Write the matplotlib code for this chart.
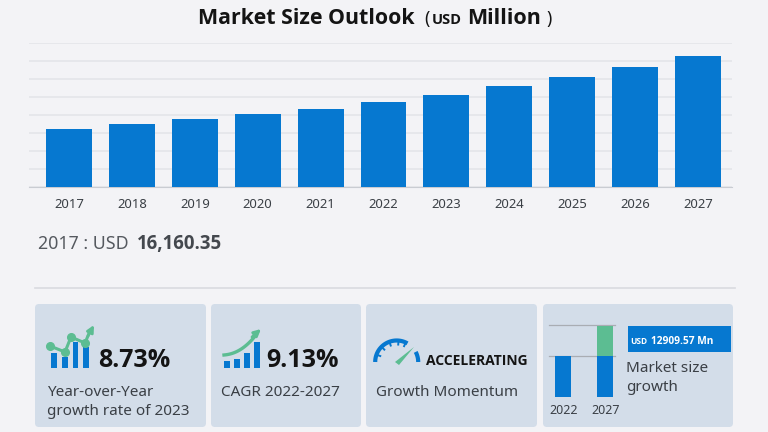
import numpy as np
import matplotlib
matplotlib.use("Agg")
import matplotlib.pyplot as plt
from matplotlib.patches import FancyBboxPatch, Rectangle

plt.rcParams['font.family'] = ['Noto Sans', 'DejaVu Sans']

years = ['2017','2018','2019','2020','2021','2022','2023','2024','2025','2026','2027']
market_size = [16160.35, 17500, 18900, 20280, 21800, 23600, 25660, 28050, 30550, 33330, 36510]
mini_years = ['2022', '2027']
mini_base = [41, 41]
mini_growth = [0, 30]

BG = '#f3f3f6'; BLUE = '#0678d0'; GREEN = '#5cbd92'; CARD = '#d3dde9'
DARK = '#3a3f45'; GRID = '#e4e5e9'

W, H = 768, 432
fig = plt.figure(figsize=(W/100, H/100), dpi=100, facecolor=BG)

# main chart
L, R, T, B = 29, 732, 43, 187
ax = fig.add_axes([L/W, 1-B/H, (R-L)/W, (B-T)/H], facecolor=BG)
x = np.arange(len(years))
ax.bar(x, market_size, width=0.73, color=BLUE, zorder=3)
ax.set_xlim(-0.636, 10.54)
ax.set_ylim(0, 40000)
ax.set_yticks(np.arange(0, 40001, 5000))
ax.yaxis.grid(True, color=GRID, lw=1.2, zorder=0)
ax.set_axisbelow(True)
ax.tick_params(axis='y', length=0, labelleft=False)
ax.set_xticks(x, years)
ax.tick_params(axis='x', length=0, pad=7.6, labelsize=9.4, labelcolor=DARK)
for s in ['top', 'left', 'right']:
    ax.spines[s].set_visible(False)
ax.spines['bottom'].set_color('#c9ccd2')

# overlay in pixel coordinates
ov = fig.add_axes([0, 0, 1, 1], facecolor='none')
ov.set_xlim(0, W); ov.set_ylim(H, 0); ov.axis('off')

def txt(px, py, s, size, weight='normal', color=DARK, ha='left', va='baseline'):
    fam = ['Open Sans', 'DejaVu Sans'] if weight == 'bold' else ['Noto Sans', 'DejaVu Sans']
    return ov.text(px, py, s, fontsize=size, fontweight=weight, color=color, ha=ha, va=va, family=fam)

# title
txt(198, 24, 'Market Size Outlook', 15.4, 'bold', '#141414')
txt(424, 24, '(', 12.5, 'normal', '#141414')
txt(432, 24, 'USD', 10.5, 'bold', '#141414')
txt(467, 24, 'Million', 15.5, 'bold', '#141414')
txt(546, 24, ')', 12.5, 'normal', '#141414')

# selected value
txt(38, 249, '2017 : USD', 12.8, 'normal', '#55595f')
txt(137, 249, '16,160.35', 13.4, 'bold', '#44484e')

# divider
ov.plot([35, 735], [288, 288], color='#d9dae0', lw=1.2)

# cards
for x0, x1 in [(35, 206), (211, 361), (366, 537), (543, 733)]:
    ov.add_patch(FancyBboxPatch((x0+3, 304+3), x1-x0-6, 123-6,
                 boxstyle='round,pad=3,rounding_size=4', fc=CARD, ec='none'))

# card 1 icon
for x0, x1, y0 in [(50.7, 57.3, 353), (61.7, 67.7, 357), (72.7, 78.3, 342), (83.3, 89.3, 347)]:
    ov.add_patch(Rectangle((x0, y0), x1-x0, 368-y0, fc=BLUE, ec='none'))
lx = [50, 65, 71, 85, 90]; ly = [346, 352, 337, 343, 331]
ov.plot(lx, ly, color=GREEN, lw=2.2, solid_capstyle='round')
ov.plot(lx[:-1], ly[:-1], 'o', color=GREEN, ms=5.5, ls='none')
ov.annotate('', xy=(94, 325), xytext=(88, 336),
            arrowprops=dict(arrowstyle='-|>', color=GREEN, lw=2, mutation_scale=10, shrinkA=0, shrinkB=0))
txt(98, 367, '8.73%', 18, 'bold', '#141414')
txt(47, 396, 'Year-over-Year', 11, color=DARK)
txt(47, 415, 'growth rate of 2023', 11, color=DARK)

# card 2 icon
for x0, x1, y0 in [(224, 230, 361), (233.5, 239.5, 359), (243.5, 250, 353), (253.5, 260, 342)]:
    ov.add_patch(Rectangle((x0, y0), x1-x0, 367.5-y0, fc=BLUE, ec='none'))
t = np.linspace(0, 1, 30)
ov.plot(224+32*t, 355-(17*t**2.2+3*t), color=GREEN, lw=2.4)
ov.annotate('', xy=(261, 329), xytext=(252, 337),
            arrowprops=dict(arrowstyle='-|>', color=GREEN, lw=2, mutation_scale=10, shrinkA=0, shrinkB=0))
txt(266, 367, '9.13%', 18, 'bold', '#141414')
txt(221, 396, 'CAGR 2022-2027', 11, color=DARK)

# card 3 gauge
cx, cy, r = 396.7, 362, 21.5
a = np.radians(np.linspace(180, 60, 60))
ov.plot(cx+r*np.cos(a), cy-r*np.sin(a), color=BLUE, lw=3, solid_capstyle='butt')
a = np.radians(np.linspace(28, 0, 20))
ov.plot(cx+r*np.cos(a), cy-r*np.sin(a), color=BLUE, lw=3, solid_capstyle='butt')
for d in [160, 135, 110, 85, 65]:
    c, s = np.cos(np.radians(d)), np.sin(np.radians(d))
    ov.plot([cx+r*c, cx+(r-4)*c], [cy-r*s, cy-(r-4)*s], color=BLUE, lw=1.4)
ov.fill([395, 399, 414], [362, 365, 347], color=GREEN, ec='none')
txt(426.5, 365, 'ACCELERATING', 10, 'bold', '#141414')
txt(376, 396, 'Growth Momentum', 11, color=DARK)

# card 4 mini chart
ov.plot([549, 615], [325, 325], color='#a9adb3', lw=0.9)
ov.plot([549, 615], [355.7, 355.7], color='#a9adb3', lw=0.9)
base_y = 396.7
mini_x = [562.7, 605]
for mx, label, b, g in zip(mini_x, mini_years, mini_base, mini_growth):
    ov.bar(mx, -b, width=16, bottom=base_y, color=BLUE, zorder=3)
    if g:
        ov.bar(mx, -g, width=16, bottom=base_y-b, color=GREEN, zorder=3)
    txt(mx+1, 414, label, 9, ha='center')
ov.set_xlim(0, W); ov.set_ylim(H, 0)
ov.add_patch(Rectangle((628, 326), 102.5, 25.5, fc=BLUE, ec='none'))
txt(630.5, 344, 'USD', 6, 'bold', 'white')
txt(651, 344, '12909.57 Mn', 7.3, 'bold', 'white')
txt(626, 372, 'Market size', 11, color=DARK)
txt(626, 391, 'growth', 11, color=DARK)

fig.savefig('out.png', dpi=100, facecolor=BG)
